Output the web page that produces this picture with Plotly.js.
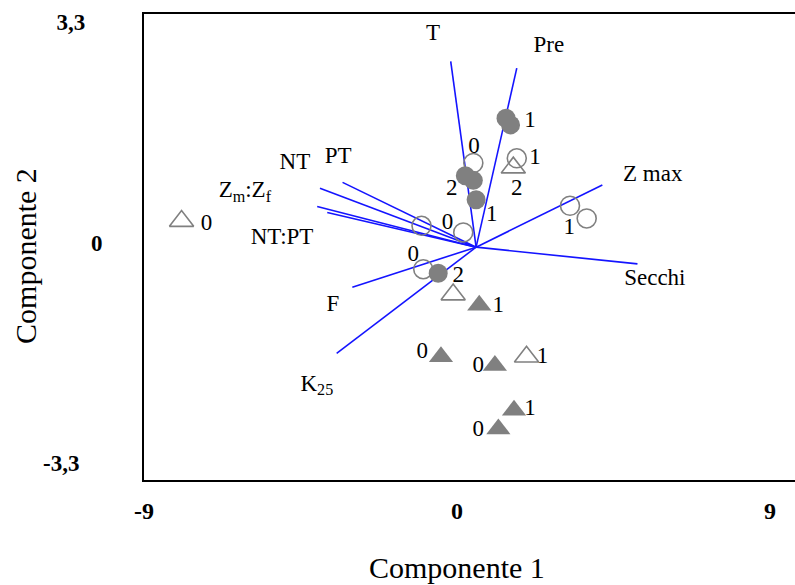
<!DOCTYPE html>
<html>
<head>
<meta charset="utf-8">
<script src="https://cdn.plot.ly/plotly-3.0.1.min.js"></script>
<style>html,body{margin:0;padding:0;background:#fff;overflow:hidden;}</style>
</head>
<body>
<div id="chart" style="width:795px;height:585px;"></div>
<script>
// Vector (loading) origin and endpoints
const vecOriginX = 0.55;
const vecOriginY = -0.07;
const vecNames = ['T', 'Pre', 'Z max', 'Secchi', 'PT', 'NT', 'Z<sub>m</sub>:Z<sub>f</sub>', 'NT:PT', 'F', 'K<sub>25</sub>'];
const vecX = [-0.18, 1.72, 4.18, 5.19, -3.29, -3.94, -4.02, -3.73, -3.01, -3.46];
const vecY = [2.71, 2.61, 0.86, -0.32, 0.90, 0.81, 0.54, 0.45, -0.67, -1.66];
const vecLabelX = [-0.69, 2.64, 5.63, 5.69, -3.42, -4.66, -6.10, -5.03, -3.57, -4.03];
const vecLabelY = [3.11, 2.93, 1.00, -0.55, 1.28, 1.19, 0.76, 0.07, -0.94, -2.13];

// Scores by group
const filledCircleX = [1.41, 1.54, 0.24, 0.47, 0.55, -0.54];
const filledCircleY = [1.86, 1.76, 1.00, 0.93, 0.64, -0.46];
const openCircleX = [0.47, 1.72, -1.02, 0.18, 3.25, 3.73, -0.97];
const openCircleY = [1.19, 1.26, 0.25, 0.15, 0.55, 0.36, -0.40];
const openTriX = [1.62, -7.92, -0.11, 2.00];
const openTriY = [1.12, 0.32, -0.78, -1.71];
const filledTriX = [0.64, -0.46, 1.09, 1.64, 1.19];
const filledTriY = [-0.94, -1.71, -1.84, -2.51, -2.79];

// Point labels
const ptLabelText = ['1', '0', '1', '2', '2', '1', '0', '1', '0', '0', '2', '1', '0', '0', '1', '1', '0'];
const ptLabelX = [2.10, 0.49, 2.24, -0.15, 1.72, 1.00, -0.27, 3.23, -7.20, -1.26, 0.04, 1.19, -1.00, 0.61, 2.46, 2.10, 0.61];
const ptLabelY = [1.81, 1.43, 1.26, 0.79, 0.79, 0.41, 0.29, 0.21, 0.28, -0.19, -0.51, -0.96, -1.65, -1.85, -1.72, -2.50, -2.81];

// Axes
const xTickVals = [-9, 0, 9];
const xTickText = ['-9', '0', '9'];
const yTickVals = [-3.3, 0, 3.3];
const yTickText = ['-3,3\u00a0\u00a0\u00a0\u00a0', '0', '3,3\u00a0\u00a0\u00a0'];
const xTitle = 'Componente 1';
const yTitle = 'Componente 2';
const xRange = [-9, 9.72];
const yRange = [-3.555, 3.42];

const serif = 'Liberation Serif, Times New Roman, serif';
const grey = '#808080';

const lx = [], ly = [];
for (let i = 0; i < vecX.length; i++) {
  lx.push(vecOriginX, vecX[i], null);
  ly.push(vecOriginY, vecY[i], null);
}

const traces = [
  {x: lx, y: ly, mode: 'lines', line: {color: '#1414ff', width: 1.6}, hoverinfo: 'skip', showlegend: false},
  {x: openCircleX, y: openCircleY, mode: 'markers', marker: {symbol: 'circle-open', size: 19, color: grey, line: {width: 1.6, color: grey}}, showlegend: false},
  {x: openTriX, y: openTriY, mode: 'markers', marker: {symbol: 'triangle-up-open', size: 21, color: grey, line: {width: 1.6, color: grey}}, showlegend: false},
  {x: filledTriX, y: filledTriY, mode: 'markers', marker: {symbol: 'triangle-up', size: 21, color: grey, line: {width: 0}}, showlegend: false},
  {x: filledCircleX, y: filledCircleY, mode: 'markers', marker: {symbol: 'circle', size: 19, color: grey, line: {width: 0}}, showlegend: false},
  {x: ptLabelX, y: ptLabelY, text: ptLabelText, mode: 'text', textposition: 'middle center', textfont: {family: serif, size: 23, color: '#000'}, showlegend: false},
  {x: vecLabelX, y: vecLabelY, text: vecNames, mode: 'text', textposition: 'middle center', textfont: {family: serif, size: 23, color: '#000'}, showlegend: false}
];

const layout = {
  width: 795, height: 585,
  margin: {l: 144, r: 0, t: 14, b: 105},
  paper_bgcolor: '#fff', plot_bgcolor: '#fff',
  showlegend: false,
  xaxis: {
    range: xRange, tickmode: 'array', tickvals: xTickVals, ticktext: xTickText,
    showgrid: false, zeroline: false, showline: true, mirror: true, linecolor: '#000', linewidth: 2,
    ticks: '', ticklabelstandoff: 8,
    tickfont: {family: serif, size: 24, color: '#000', weight: 'bold'}
  },
  yaxis: {
    range: yRange, tickmode: 'array', tickvals: yTickVals, ticktext: yTickText,
    showgrid: false, zeroline: false, showline: true, mirror: false, linecolor: '#000', linewidth: 2,
    ticks: '', ticklabelstandoff: 35,
    tickfont: {family: serif, size: 23, color: '#000', weight: 'bold'}
  },
  annotations: [
    {text: xTitle, xref: 'paper', yref: 'paper', x: 0.4808, y: -0.1867, xanchor: 'center', yanchor: 'middle',
     showarrow: false, font: {family: serif, size: 30, color: '#000'}},
    {text: yTitle, xref: 'paper', yref: 'paper', x: -0.1813, y: 0.4807, xanchor: 'center', yanchor: 'middle',
     textangle: -90, showarrow: false, font: {family: serif, size: 30, color: '#000'}}
  ]
};

Plotly.newPlot('chart', traces, layout, {displayModeBar: false, staticPlot: true});
</script>
</body>
</html>
